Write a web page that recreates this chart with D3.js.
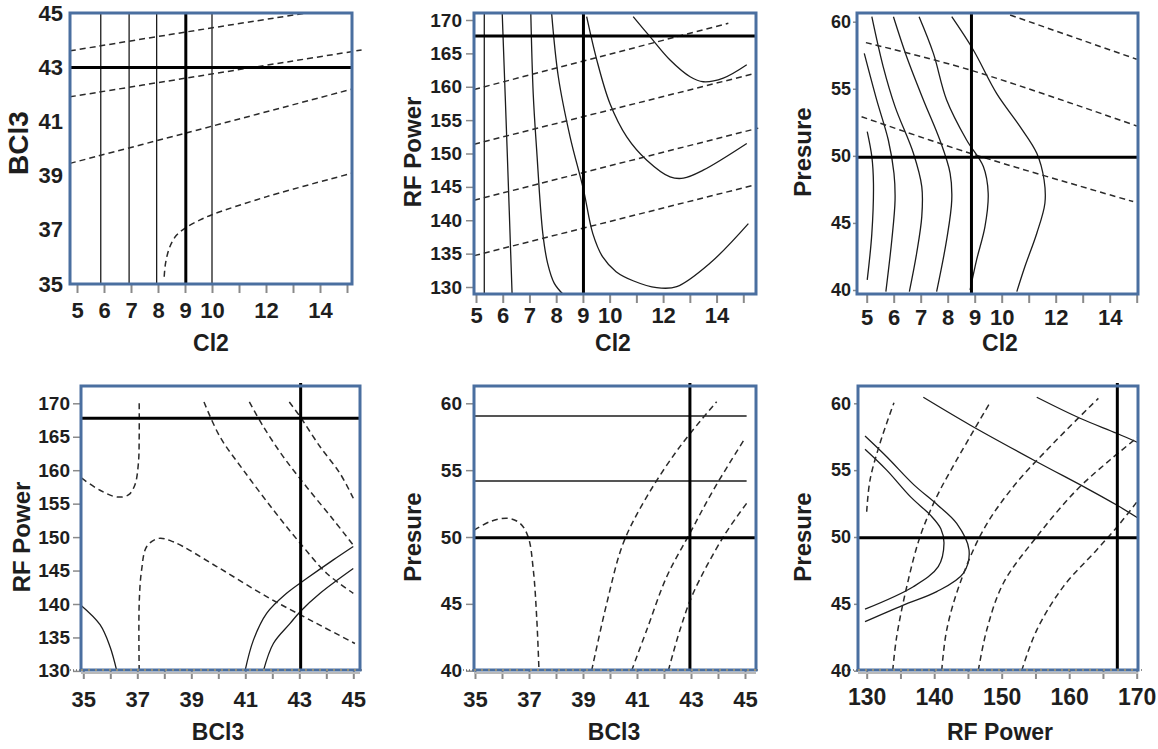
<!DOCTYPE html>
<html>
<head>
<meta charset="utf-8">
<script src="https://cdn.jsdelivr.net/npm/d3@7"></script>
<style>
  body { margin: 0; background: #fff; }
  svg { display: block; font-family: "Liberation Sans", Arial, sans-serif; font-weight: bold; }
</style>
</head>
<body>
<svg id="chart" width="1158" height="749"></svg>
<script>
// ---------- values ----------
const cl2Ticks = [5, 6, 7, 8, 9, 10, 11, 12, 13, 14, 15];
const cl2Labels = [5, 6, 7, 8, 9, 10, 12, 14];
const bcl3Ticks = [35, 36, 37, 38, 39, 40, 41, 42, 43, 44, 45];
const bcl3Labels = [35, 37, 39, 41, 43, 45];
const rfTicks = [130, 135, 140, 145, 150, 155, 160, 165, 170];
const rfLabels = [130, 140, 150, 160, 170];
const presTicks = [40, 45, 50, 55, 60];

// panel 1 : Cl2 x BCl3
const p1Cross = [9.03, 43];
const p1Solid = [
  [[5.88, 35], [5.88, 45.02]],
  [[6.93, 35], [6.93, 45.02]],
  [[7.95, 35], [7.95, 45.02]],
  [[10.0, 35], [10.0, 45.02]]
];
const p1Dashed = [
  [[4.74, 43.62], [9.0, 44.31], [13.38, 45.0]],
  [[4.74, 41.92], [9.03, 42.61], [15.54, 43.65]],
  [[4.74, 39.46], [9.03, 40.58], [15.17, 42.2]],
  [[8.23, 35.27], [8.28, 35.77], [8.44, 36.38], [8.69, 36.81], [9.03, 37.08], [9.56, 37.37],
   [10.05, 37.58], [12.03, 38.23], [15.17, 39.09]]
];

// panel 2 : Cl2 x RF Power
const p2Cross = [9.02, 167.6];
const p2Solid = [
  [[5.31, 128.95], [5.31, 171.1]],
  [[5.98, 171.1], [6.17, 150], [6.35, 128.95]],
  [[7.05, 171.0], [7.14, 159.0], [7.27, 150.5], [7.5, 138.0], [7.68, 133.55], [7.93, 130.55], [8.25, 128.95]],
  [[7.83, 171.0], [8.08, 161.5], [8.52, 152.5], [9.02, 144.6], [9.37, 138.0], [9.74, 134.5],
   [10.24, 132.3], [10.9, 130.9], [11.76, 129.9], [12.51, 130.05], [13.75, 133.55], [15.19, 139.5]],
  [[9.14, 170.5], [9.52, 164.0], [10.01, 157.5], [10.64, 152.5], [11.39, 149.0], [12.26, 146.5],
   [12.76, 146.3], [13.5, 147.5], [15.13, 151.5]],
  [[10.88, 170.5], [11.51, 167.5], [12.26, 164.0], [13.01, 161.5], [13.5, 160.75], [14.25, 161.3], [15.13, 163.3]]
];
const p2Dashed = [
  [[4.93, 159.6], [14.44, 169.5]],
  [[4.93, 151.4], [15.44, 162.0]],
  [[4.93, 143.0], [15.56, 153.8]],
  [[4.93, 134.7], [15.44, 145.3]]
];

// panel 3 : Cl2 x Presure
const p3Cross = [8.88, 49.9];
const p3Solid = [
  [[5.02, 51.8], [5.19, 49.94], [5.25, 47.96], [5.19, 44.2], [5.02, 40.75]],
  [[4.91, 57.64], [5.37, 54.17], [5.8, 51.18], [6.01, 48.7], [6.05, 46.7], [5.93, 43.73], [5.71, 39.88]],
  [[5.19, 60.37], [5.61, 56.65], [6.05, 53.67], [6.73, 50.19], [7.04, 47.7], [7.04, 45.47], [6.85, 42.74], [6.58, 39.88]],
  [[5.99, 60.37], [6.48, 57.39], [7.1, 54.17], [7.71, 51.18], [8.09, 48.7], [8.15, 46.7], [7.96, 43.73], [7.59, 39.88]],
  [[6.94, 60.37], [7.47, 57.64], [7.96, 54.17], [8.7, 51.18], [9.32, 49.2], [9.5, 47.2], [9.38, 44.72], [9.07, 42.24], [8.83, 40.0]],
  [[8.15, 60.37], [8.95, 57.89], [9.81, 54.66], [10.68, 52.18], [11.3, 50.19], [11.57, 48.2], [11.6, 46.47],
   [11.3, 44.23], [10.86, 41.75], [10.56, 39.88]]
];
const p3Dashed = [
  [[10.31, 60.5], [15.0, 57.2]],
  [[4.97, 58.44], [8.83, 56.4], [15.0, 52.23]],
  [[4.81, 52.92], [8.83, 50.19], [14.87, 46.59]]
];

// panel 4 : BCl3 x RF Power
const p4Cross = [43.05, 167.76];
const p4Solid = [
  [[34.9, 139.85], [35.62, 136.9], [35.99, 133.6], [36.24, 130]],
  [[40.99, 130], [41.3, 134.6], [41.79, 138.6], [42.53, 141.6], [43.27, 143.8], [44.26, 146.6], [45.0, 148.6]],
  [[41.67, 130], [42.04, 134.1], [42.66, 137.1], [43.03, 138.85], [43.77, 141.6], [45.0, 145.3]]
];
const p4Dashed = [
  [[34.94, 158.8], [35.62, 157.0], [36.24, 156.0], [36.67, 156.3], [36.91, 157.8], [37.04, 161.0], [37.07, 165.0], [37.07, 170]],
  [[37.07, 130], [37.07, 140.1], [37.16, 145.1], [37.35, 148.6], [37.78, 149.8], [38.33, 149.3], [39.94, 145.6],
   [41.79, 141.1], [43.64, 137.1], [45.06, 134.1]],
  [[39.47, 170.2], [40.06, 165.0], [40.93, 160.0], [42.04, 154.05], [43.03, 149.1], [44.01, 144.6], [45.0, 141.6]],
  [[41.15, 170.2], [41.67, 166.5], [42.41, 162.0], [43.27, 157.5], [44.26, 152.6], [45.0, 148.8]],
  [[42.63, 170.2], [43.03, 168.0], [43.77, 163.5], [44.51, 159.5], [45.0, 155.8]]
];

// panel 5 : BCl3 x Presure
const p5Cross = [42.96, 49.95];
const p5Solid = [
  [[35, 59.05], [45.06, 59.05]],
  [[35, 54.19], [45.06, 54.19]]
];
const p5Dashed = [
  [[34.97, 50.52], [35.56, 51.15], [36.23, 51.4], [36.67, 51.02], [36.97, 50.0], [37.16, 47.53], [37.29, 43.79], [37.37, 40]],
  [[39.32, 40], [39.88, 45.04], [40.49, 49.53], [41.36, 53.0], [42.59, 56.76], [43.95, 60.12]],
  [[40.8, 40], [41.36, 43.04], [42.1, 47.03], [42.96, 50.28], [43.83, 53.52], [45.0, 57.38]],
  [[42.16, 40], [42.59, 43.04], [43.08, 45.79], [44.2, 50.02], [45.06, 52.52]]
];

// panel 6 : RF Power x Presure
const p6Cross = [167.13, 49.95];
const p6Solid = [
  [[129.75, 57.55], [132.96, 56.0], [137.0, 53.9], [140.5, 52.4], [143.33, 51.02], [145.16, 49.03],
   [144.31, 47.28], [140.37, 45.91], [135.43, 44.91], [129.75, 43.67]],
  [[129.75, 56.56], [132.96, 55.0], [136.5, 53.0], [139.5, 51.6], [141.0, 50.6], [141.45, 49.53],
   [140.6, 47.78], [136.9, 46.28], [129.75, 44.6]],
  [[138.39, 60.45], [145.3, 58.38], [155.19, 55.63], [162.6, 53.64], [167.04, 52.39], [170.24, 51.4]],
  [[155.19, 60.45], [161.6, 58.88], [167.04, 57.76], [170.24, 57.05]]
];
const p6Dashed = [
  [[130.0, 51.89], [130.49, 54.26], [131.97, 57.01], [134.04, 60.05]],
  [[133.85, 40], [134.44, 42.54], [135.93, 46.28], [137.9, 50.02], [140.37, 53.01], [143.33, 55.76], [148.27, 60.05]],
  [[141.11, 40], [141.85, 43.04], [143.82, 46.54], [147.27, 50.52], [151.72, 53.76], [157.65, 57.01], [164.32, 60.37]],
  [[146.53, 40], [147.78, 43.04], [150.24, 46.54], [155.19, 50.02], [161.11, 53.52], [166.04, 55.76], [170.24, 57.5]],
  [[152.96, 40], [155.19, 43.04], [159.13, 46.29], [164.07, 49.03], [167.53, 51.02], [170.24, 52.77]]
];

// ---------- drawing ----------
const svg = d3.select("#chart");
const frameColor = "#4a6fa0";

function contour_panel(opt) {
  const [fx0, fy0, fx1, fy1] = opt.frame;
  const x = d3.scaleLinear().domain(opt.xDomain).range(opt.xRange);
  const y = d3.scaleLinear().domain(opt.yDomain).range(opt.yRange);
  const g = svg.append("g");

  const line = d3.line()
    .x(d => x(d[0]))
    .y(d => y(d[1]))
    .curve(d3.curveCatmullRom.alpha(0.5));

  g.selectAll(".solid")
    .data(opt.solid)
    .join("path")
    .attr("d", line)
    .attr("fill", "none")
    .attr("stroke", "#1c1c1c")
    .attr("stroke-width", 1.3);

  g.selectAll(".dashed")
    .data(opt.dashed)
    .join("path")
    .attr("d", line)
    .attr("fill", "none")
    .attr("stroke", "#2a2a2a")
    .attr("stroke-width", 1.5)
    .attr("stroke-dasharray", "6,4");

  // x axis
  const xAxis = d3.axisBottom(x)
    .tickValues(opt.xTicks)
    .tickSize(9)
    .tickFormat(d => opt.xLabels.includes(d) ? d : "");
  const gx = g.append("g")
    .attr("transform", `translate(0, ${fy1})`)
    .call(xAxis);
  gx.select(".domain").remove();
  gx.selectAll(".tick line").attr("stroke", "#8a8a8a").attr("stroke-width", 2);
  gx.selectAll(".tick text")
    .attr("y", opt.xLabelBase)
    .attr("dy", 0)
    .attr("fill", "#1e1e1e")
    .style("font-size", opt.xFont + "px");

  // y axis
  const yAxis = d3.axisLeft(y)
    .tickValues(opt.yTicks)
    .tickSize(opt.yTickLen)
    .tickPadding(opt.yGap - opt.yTickLen);
  const gy = g.append("g")
    .attr("transform", `translate(${fx0}, 0)`)
    .call(yAxis);
  gy.select(".domain").remove();
  gy.selectAll(".tick line").attr("stroke", "#8a8a8a").attr("stroke-width", 1.5);
  gy.selectAll(".tick text")
    .attr("fill", "#1e1e1e")
    .style("font-size", opt.yFont + "px");

  // crosshair
  g.append("line")
    .attr("x1", x(opt.cross[0])).attr("x2", x(opt.cross[0]))
    .attr("y1", fy0 - opt.crossOver).attr("y2", fy1)
    .attr("stroke", "#000").attr("stroke-width", 3);
  g.append("line")
    .attr("x1", fx0).attr("x2", fx1)
    .attr("y1", y(opt.cross[1])).attr("y2", y(opt.cross[1]))
    .attr("stroke", "#000").attr("stroke-width", 3);

  // bottom row artefacts: grey rule and dotted trace under the frame
  if (opt.bottomRule) {
    g.append("line")
      .attr("x1", fx0).attr("x2", fx1)
      .attr("y1", fy1 + 3).attr("y2", fy1 + 3)
      .attr("stroke", "#b9b9b9").attr("stroke-width", 2);
    g.append("line")
      .attr("x1", fx0 - 14).attr("x2", fx1 + 4)
      .attr("y1", fy1).attr("y2", fy1)
      .attr("stroke", "#222").attr("stroke-width", 1)
      .attr("stroke-dasharray", "1,2");
  }

  // frame
  g.append("rect")
    .attr("x", fx0).attr("y", fy0)
    .attr("width", fx1 - fx0).attr("height", fy1 - fy0)
    .attr("fill", "none")
    .attr("stroke", frameColor)
    .attr("stroke-width", 3);

  if (opt.bottomRule) {
    g.append("line")
      .attr("x1", fx0).attr("x2", fx1)
      .attr("y1", fy1).attr("y2", fy1)
      .attr("stroke", "#e0b050").attr("stroke-width", 1)
      .attr("stroke-dasharray", "2,5");
  }

  // titles
  g.append("text")
    .attr("x", opt.xTitlePos[0])
    .attr("y", opt.xTitlePos[1])
    .attr("text-anchor", "middle")
    .attr("fill", "#1e1e1e")
    .style("font-size", "23px")
    .text(opt.xTitle);

  g.append("text")
    .attr("transform", `translate(${opt.yTitlePos[0]}, ${opt.yTitlePos[1]}) rotate(-90)`)
    .attr("text-anchor", "middle")
    .attr("fill", "#1e1e1e")
    .style("font-size", opt.yTitleFont + "px")
    .text(opt.yTitle);
}

contour_panel({
  frame: [70, 13, 352, 284], xDomain: [5, 15], xRange: [77, 347], yDomain: [35, 45], yRange: [284, 13.5],
  solid: p1Solid, dashed: p1Dashed, cross: p1Cross, crossOver: 0,
  xTicks: cl2Ticks, xLabels: cl2Labels, yTicks: bcl3Labels,
  xLabelBase: 34, xFont: 22, yFont: 22, yTickLen: 0, yGap: 7,
  xTitle: "Cl2", xTitlePos: [211, 351], yTitle: "BCl3", yTitlePos: [28, 143], yTitleFont: 28
});

contour_panel({
  frame: [474, 13, 756, 294], xDomain: [5, 15], xRange: [476, 743.3], yDomain: [130, 170], yRange: [287, 20],
  solid: p2Solid, dashed: p2Dashed, cross: p2Cross, crossOver: 0,
  xTicks: cl2Ticks, xLabels: cl2Labels, yTicks: rfTicks,
  xLabelBase: 29, xFont: 22, yFont: 19, yTickLen: 8, yGap: 12,
  xTitle: "Cl2", xTitlePos: [613, 351], yTitle: "RF Power", yTitlePos: [421, 152], yTitleFont: 24
});

contour_panel({
  frame: [857, 13, 1138, 294], xDomain: [5, 15], xRange: [866.7, 1136.7], yDomain: [40, 60], yRange: [290, 21.7],
  solid: p3Solid, dashed: p3Dashed, cross: p3Cross, crossOver: 0,
  xTicks: cl2Ticks, xLabels: cl2Labels, yTicks: presTicks,
  xLabelBase: 31, xFont: 22, yFont: 18, yTickLen: 4, yGap: 6,
  xTitle: "Cl2", xTitlePos: [1000, 351], yTitle: "Presure", yTitlePos: [811, 152], yTitleFont: 24
});

contour_panel({
  frame: [81, 386, 360, 670], xDomain: [35, 45], xRange: [83.3, 353.3], yDomain: [130, 170], yRange: [670.9, 403.3],
  solid: p4Solid, dashed: p4Dashed, cross: p4Cross, crossOver: 3, bottomRule: true,
  xTicks: bcl3Ticks, xLabels: bcl3Labels, yTicks: rfTicks,
  xLabelBase: 37, xFont: 22, yFont: 19, yTickLen: 8, yGap: 11,
  xTitle: "BCl3", xTitlePos: [218, 740], yTitle: "RF Power", yTitlePos: [30, 537], yTitleFont: 24
});

contour_panel({
  frame: [474, 386, 756, 670], xDomain: [35, 45], xRange: [475, 745], yDomain: [40, 60], yRange: [670.7, 403.3],
  solid: p5Solid, dashed: p5Dashed, cross: p5Cross, crossOver: 3, bottomRule: true,
  xTicks: bcl3Ticks, xLabels: bcl3Labels, yTicks: presTicks,
  xLabelBase: 37, xFont: 22, yFont: 19, yTickLen: 8, yGap: 12,
  xTitle: "BCl3", xTitlePos: [614, 740], yTitle: "Presure", yTitlePos: [421, 537], yTitleFont: 24
});

contour_panel({
  frame: [858, 386, 1138, 670], xDomain: [130, 170], xRange: [866.7, 1136.7], yDomain: [40, 60], yRange: [670.7, 403.3],
  solid: p6Solid, dashed: p6Dashed, cross: p6Cross, crossOver: 3, bottomRule: true,
  xTicks: rfTicks, xLabels: rfLabels, yTicks: presTicks,
  xLabelBase: 35, xFont: 23, yFont: 18, yTickLen: 4, yGap: 7,
  xTitle: "RF Power", xTitlePos: [1000, 740], yTitle: "Presure", yTitlePos: [811, 537], yTitleFont: 24
});
</script>
</body>
</html>
